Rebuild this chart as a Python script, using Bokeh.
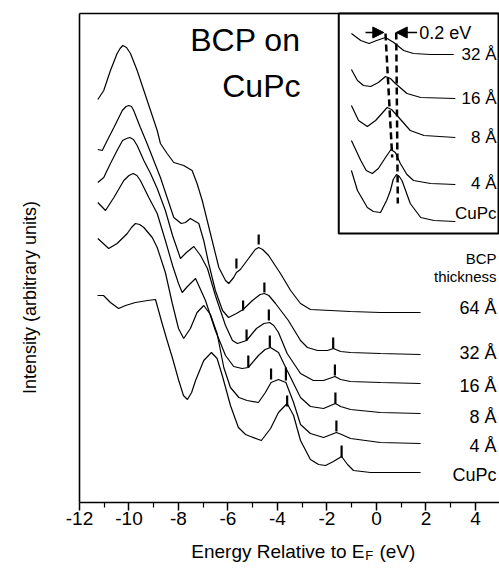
import math
from bokeh.plotting import figure
from bokeh.models import Range1d, FixedTicker, Arrow, NormalHead
from bokeh.core.properties import value
from bokeh.embed import file_html
from bokeh.resources import INLINE

FONT = "Liberation Sans"

# ---------------- main spectra (energy in eV, intensity in arbitrary units) ----------------
e_64 = [-11.26, -11.02, -10.75, -10.48, -10.36, -10.25, -10.10, -9.94, -9.67, -9.40, -9.13, -8.86, -8.73, -8.46, -8.19,
        -7.79, -7.45, -7.25, -7.04, -6.84, -6.64, -6.37, -6.10, -5.97, -5.77, -5.66, -5.50, -5.17, -4.90, -4.76,
        -4.60, -4.36, -3.88, -3.47, -3.07, -2.67, -1.86, -1.05, 0.16, 1.78]
i_64 = [403, 412, 432, 449, 454, 457, 455, 449, 432, 412, 392, 372, 359, 349, 340,
        337, 332, 319, 302, 282, 262, 235, 222, 219, 225, 230, 233, 244, 253, 255,
        253, 247, 229, 212, 199, 193, 192, 191, 190, 190]

e_32 = [-11.26, -11.08, -10.88, -10.61, -10.27, -10.12, -10.01, -9.90, -9.81, -9.54, -9.27, -9.00, -8.73, -8.46, -8.19,
        -7.89, -7.72, -7.52, -7.18, -6.98, -6.78, -6.51, -6.22, -5.98, -5.66, -5.39, -5.01, -4.70, -4.53,
        -4.35, -4.08, -3.56, -3.07, -2.79, -2.38, -1.98, -1.74, -1.45, -1.05, 0.16, 1.78]
i_32 = [353, 352, 362, 375, 392, 396, 397, 396, 392, 375, 359, 342, 325, 305, 285,
        279, 280, 284, 279, 262, 239, 212, 192, 185, 189, 193, 202, 208, 209,
        207, 199, 182, 162, 155, 152, 152, 154, 151, 150, 149, 148]

e_16 = [-11.26, -11.02, -10.75, -10.48, -10.26, -10.10, -9.97, -9.82, -9.67, -9.40, -9.13, -8.86, -8.53, -8.24, -7.92,
        -7.68, -7.38, -7.11, -6.83, -6.51, -6.10, -5.82, -5.62, -5.25, -4.85, -4.55, -4.32, -4.15, -3.96, -3.61,
        -3.07, -2.55, -2.14, -1.68, -1.45, -1.05, 0.16, 1.78]
i_16 = [320, 325, 339, 352, 362, 364, 365, 363, 357, 342, 329, 314, 292, 267, 244,
        250, 256, 247, 234, 207, 177, 162, 159, 162, 174, 179, 180, 177, 170, 149,
        129, 122, 122, 126, 123, 121, 120, 119]

e_8 = [-11.26, -10.95, -10.61, -10.21, -10.00, -9.83, -9.68, -9.54, -9.20, -8.86, -8.53, -8.24, -8.00, -7.85, -7.64,
       -7.31, -6.91, -6.51, -6.10, -5.77, -5.43, -5.18, -4.77, -4.50, -4.28, -3.96, -3.61, -3.07, -2.67,
       -2.14, -1.66, -1.45, -1.05, 0.16, 1.78]
i_8 = [300, 292, 305, 322, 327, 329, 327, 322, 305, 289, 262, 237, 219, 210, 216,
       224, 202, 172, 147, 136, 134, 135, 147, 153, 155, 150, 132, 105, 96,
       94, 99, 96, 93, 90, 89]

e_4 = [-11.26, -10.82, -10.48, -10.07, -9.90, -9.74, -9.57, -9.40, -9.06, -8.86, -8.53, -8.25, -8.00, -7.79, -7.52,
       -7.25, -6.98, -6.71, -6.44, -6.17, -5.90, -5.56, -5.23, -4.77, -4.49, -4.26, -3.96, -3.66,
       -3.35, -3.07, -2.67, -2.14, -1.62, -1.41, -1.05, 0.16, 1.78]
i_4 = [264, 254, 259, 269, 275, 279, 278, 275, 265, 255, 230, 199, 174, 164, 174,
       190, 197, 188, 169, 135, 115, 105, 102, 100, 110, 120, 123, 120,
       100, 78, 69, 65, 70, 68, 64, 60, 59]

e_cupc = [-11.27, -11.03, -10.75, -10.42, -10.14, -9.74, -9.25, -8.93, -8.66, -8.46, -8.25, -7.99, -7.80,
          -7.64, -7.47, -7.31, -6.98, -6.67, -6.44, -6.22, -5.90, -5.58, -5.29, -5.09, -4.65, -4.28,
          -3.96, -3.61, -3.35, -3.07, -2.67, -2.34, -2.06, -1.74, -1.41, -1.17, -0.93, -0.24, 1.78]
i_cupc = [207, 207, 200, 194, 197, 200, 202, 203, 179, 162, 145, 122, 107,
          103, 110, 122, 142, 150, 144, 126, 97, 75, 68, 66, 62, 74,
          90, 99, 87, 62, 43, 38, 37, 41, 46, 38, 32, 30, 30]

series_e = [e_64, e_32, e_16, e_8, e_4, e_cupc]
series_i = [i_64, i_32, i_16, i_8, i_4, i_cupc]
series_names = ["64 Å", "32 Å", "16 Å", "8 Å", "4 Å", "CuPc"]

# peak markers (energy, lower intensity, upper intensity)
mark_e = [-5.66, -4.76,
          -5.39, -4.53, -1.75,
          -5.25, -4.35, -1.68,
          -5.18, -4.31, -1.66,
          -4.26, -3.66, -1.62,
          -3.61, -1.41]
mark_lo = [234, 258,
           192, 210, 154,
           162, 182, 127,
           135, 155, 99,
           123, 122, 71,
           96, 45]
mark_hi = [244, 268,
           202, 220, 165,
           173, 193, 138,
           147, 167, 110,
           134, 135, 82,
           107, 57]

# ---------------- inset spectra (HOMO region) ----------------
ie_32 = [-2.22, -2.05, -1.90, -1.76, -1.60, -1.45, -1.27, -1.09, -0.78, -0.36]
ii_32 = [200, 193, 190, 193, 196, 191, 183, 180, 179, 179]
ie_16 = [-2.22, -2.11, -2.00, -1.87, -1.73, -1.60, -1.51, -1.42, -1.21, -0.96, -0.33]
ii_16 = [164, 153, 148, 147, 151, 157, 155, 150, 140, 136, 135]
ie_8 = [-2.22, -2.09, -1.93, -1.78, -1.65, -1.57, -1.49, -1.39, -1.15, -0.90, -0.33]
ii_8 = [128, 113, 107, 113, 121, 126, 124, 118, 103, 98, 96]
ie_4 = [-2.22, -2.05, -1.95, -1.84, -1.73, -1.60, -1.50, -1.42, -1.33, -1.21, -1.09, -0.78, -0.33]
ii_4 = [93, 73, 63, 60, 65, 76, 84, 81, 70, 59, 53, 50, 49]
ie_cupc = [-2.22, -2.11, -1.93, -1.82, -1.69, -1.58, -1.51, -1.46, -1.40, -1.35, -1.30, -1.15, -0.96, -0.72, -0.33]
ii_cupc = [63, 43, 26, 22, 21, 33, 43, 54, 59, 57, 53, 30, 16, 13, 12]

inset_e = [ie_32, ie_16, ie_8, ie_4, ie_cupc]
inset_i = [ii_32, ii_16, ii_8, ii_4, ii_cupc]
inset_names = ["32 Å", "16 Å", "8 Å", "4 Å", "CuPc"]

# dashed guide lines through peak positions
dash_left_e = [-1.60, -1.478]
dash_left_i = [200, 76]
dash_right_e = [-1.405, -1.376]
dash_right_i = [201, 30]

x_ticks = [-12, -10, -8, -6, -4, -2, 0, 2, 4]
x_tick_labels = ["-12", "-10", "-8", "-6", "-4", "-2", "0", "2", "4"]
x_minor = [-11, -9, -7, -5, -3, -1, 1, 3]

# ---------------- figure (frame covers the whole canvas; axes at fixed locations) ----------------
p = figure(width=499, height=569, x_range=Range1d(-15.192, 4.97), y_range=Range1d(-67, 502),
           output_backend="svg", toolbar_location=None,
           min_border_left=0, min_border_right=0, min_border_top=0, min_border_bottom=0)
p.title.visible = False
p.background_fill_color = "white"
p.border_fill_color = "white"
p.outline_line_color = None
p.xgrid.visible = False
p.ygrid.visible = False

p.extra_x_ranges = {"inset_x": Range1d(-8.6, 0.4727)}
p.extra_y_ranges = {"inset_y": Range1d(-336, 233)}

# x axis
xa = p.xaxis[0]
xa.fixed_location = 0
xa.bounds = (-12, 4.97)
xa.ticker = FixedTicker(ticks=x_ticks, minor_ticks=x_minor)
xa.major_label_overrides = {t: s for t, s in zip(x_ticks, x_tick_labels)}
xa.major_tick_in = 0
xa.major_tick_out = 8
xa.minor_tick_in = 0
xa.minor_tick_out = 5
xa.major_tick_line_width = 1.5
xa.minor_tick_line_width = 1.2
xa.axis_line_width = 1.6
xa.major_label_standoff = 1
xa.major_label_text_font = FONT
xa.major_label_text_font_size = "19px"
xa.major_label_text_color = "black"

# y axis
ya = p.yaxis[0]
ya.fixed_location = -12
ya.bounds = (0, 489)
ya.ticker = FixedTicker(ticks=[])
ya.axis_line_width = 1.6
ya.major_tick_out = 0
ya.minor_tick_out = 0

# top frame line
p.segment(x0=[-12], y0=[489], x1=[4.97], y1=[489], line_color="black", line_width=1.6)

# axis titles
p.text(x=[-13.98], y=[205], text=["Intensity (arbitrary units)"], angle=math.pi / 2,
       text_align="center", text_baseline="middle", text_font=value(FONT),
       text_font_size="18px", text_color="black")
p.text(x=[-0.485], y=[-49], text=["Energy Relative to E"], text_align="right",
       text_baseline="alphabetic", text_font=value(FONT), text_font_size="19px", text_color="black")
p.text(x=[-0.45], y=[-53], text=["F"], text_align="left",
       text_baseline="alphabetic", text_font=value(FONT), text_font_size="13px", text_color="black")
p.text(x=[0.12], y=[-49], text=["(eV)"], text_align="left",
       text_baseline="alphabetic", text_font=value(FONT), text_font_size="19px", text_color="black")

# spectra
for ex, iy in zip(series_e, series_i):
    p.line(ex, iy, line_color="black", line_width=1.2)

p.segment(x0=mark_e, y0=mark_lo, x1=mark_e, y1=mark_hi, line_color="black", line_width=2.2)

# right-hand labels
lab_y = [195, 150, 117, 86, 57, 28]
p.text(x=[4.85] * len(series_names), y=lab_y, text=series_names, text_align="right",
       text_baseline="middle", text_font=value(FONT), text_font_size="18px", text_color="black")
p.text(x=[4.85, 4.85], y=[244, 226], text=["BCP", "thickness"], text_align="right",
       text_baseline="middle", text_font=value(FONT), text_font_size="15px", text_color="black")

# title text
p.text(x=[-3.07, -3.07], y=[463, 417], text=["BCP on", "CuPc"], text_align="right",
       text_baseline="alphabetic", text_font=value(FONT), text_font_size="32px", text_color="black")

# ---------------- inset ----------------
rk = dict(x_range_name="inset_x", y_range_name="inset_y")
p.quad(left=[-2.45], right=[0.455], bottom=[0], top=[220], fill_color="white",
       line_color="black", line_width=2, **rk)
for ex, iy in zip(inset_e, inset_i):
    p.line(ex, iy, line_color="black", line_width=1.2, **rk)
p.line(dash_left_e, dash_left_i, line_color="black", line_width=2.5, line_dash="7 4", **rk)
p.line(dash_right_e, dash_right_i, line_color="black", line_width=2.5, line_dash="7 4", **rk)

p.text(x=[0.418] * 5, y=[179, 135, 96, 50, 20], text=inset_names, text_align="right",
       text_baseline="middle", text_font=value(FONT), text_font_size="17px", text_color="black", **rk)
p.text(x=[-0.985], y=[201], text=["0.2 eV"], text_align="left", text_baseline="middle",
       text_font=value(FONT), text_font_size="18px", text_color="black", **rk)

p.add_layout(Arrow(end=NormalHead(size=11, fill_color="black", line_color="black"),
                   x_start=-1.964, y_start=201, x_end=-1.631, y_end=201,
                   line_width=1.5, **rk))
p.add_layout(Arrow(end=NormalHead(size=11, fill_color="black", line_color="black"),
                   x_start=-1.024, y_start=201, x_end=-1.405, y_end=201,
                   line_width=1.5, **rk))

open("out.html", "w").write(file_html(p, INLINE))
